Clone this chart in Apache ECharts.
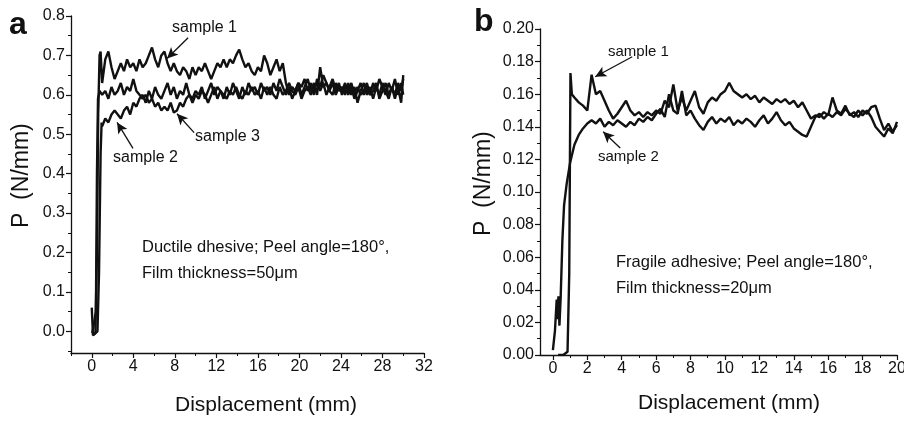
<!DOCTYPE html>
<html>
<head>
<meta charset="utf-8">
<script src="https://cdn.jsdelivr.net/npm/echarts@6/dist/echarts.min.js"></script>
<style>
  html, body { margin: 0; padding: 0; background: #fff; }
  #main { width: 904px; height: 423px; }
</style>
</head>
<body>
<div id="main"></div>
<script>
// panel a: ductile adhesive, 50um film
const riseA1 = [[0.05, -0.01], [0.15, -0.015], [0.35, -0.005], [0.5, 0.2], [0.62, 0.55], [0.75, 0.7], [0.85, 0.71]];
const riseA2 = [[0, 0.06], [0.05, 0.055], [0.12, -0.01], [0.3, -0.015], [0.55, 0.0], [0.7, 0.15], [0.85, 0.45], [0.95, 0.53]];
const riseA3 = [[0.05, -0.005], [0.2, -0.01], [0.4, 0.05], [0.5, 0.4], [0.6, 0.59], [0.75, 0.61]];
const dispA = [
  1.0, 1.3, 1.6, 1.9, 2.2, 2.5, 2.8, 3.1, 3.4, 3.7,
  4.0, 4.3, 4.6, 4.9, 5.2, 5.5, 5.8, 6.1, 6.4, 6.7,
  7.0, 7.3, 7.6, 7.9, 8.2, 8.5, 8.8, 9.1, 9.4, 9.7,
  10.0, 10.3, 10.6, 10.9, 11.2, 11.5, 11.8, 12.1, 12.4, 12.7,
  13.0, 13.3, 13.6, 13.9, 14.2, 14.5, 14.8, 15.1, 15.4, 15.7,
  16.0, 16.3, 16.6, 16.9, 17.2, 17.5, 17.8, 18.1, 18.4, 18.7,
  19.0, 19.3, 19.6, 19.9, 20.2, 20.5, 20.8, 21.1, 21.4, 21.7,
  22.0, 22.3, 22.6, 22.9, 23.2, 23.5, 23.8, 24.1, 24.4, 24.7,
  25.0, 25.3, 25.6, 25.9, 26.2, 26.5, 26.8, 27.1, 27.4, 27.7,
  28.0, 28.3, 28.6, 28.9, 29.2, 29.5, 29.8, 30.0
];
const sampleA1 = [
  0.63, 0.69, 0.71, 0.67, 0.64, 0.66, 0.68, 0.66, 0.69, 0.67,
  0.68, 0.66, 0.69, 0.67, 0.68, 0.70, 0.72, 0.69, 0.67, 0.70,
  0.71, 0.68, 0.66, 0.68, 0.66, 0.65, 0.67, 0.66, 0.64, 0.67,
  0.65, 0.67, 0.66, 0.68, 0.66, 0.64, 0.66, 0.68, 0.67, 0.69,
  0.67, 0.69, 0.68, 0.70, 0.715, 0.69, 0.67, 0.68, 0.66, 0.65,
  0.67, 0.66, 0.70, 0.68, 0.65, 0.67, 0.69, 0.66, 0.68, 0.63,
  0.60, 0.62, 0.61, 0.63, 0.62, 0.64, 0.61, 0.63, 0.60, 0.64,
  0.62, 0.65, 0.63, 0.61, 0.63, 0.60, 0.62, 0.61, 0.63, 0.60,
  0.62, 0.59, 0.61, 0.63, 0.60, 0.62, 0.60, 0.63, 0.61, 0.64,
  0.62, 0.60, 0.63, 0.61, 0.64, 0.60, 0.63, 0.60
];
const sampleA2 = [
  0.52, 0.54, 0.53, 0.55, 0.56, 0.55, 0.54, 0.56, 0.57, 0.55,
  0.58, 0.57, 0.59, 0.60, 0.58, 0.61, 0.59, 0.62, 0.60, 0.59,
  0.61, 0.63, 0.60, 0.62, 0.59, 0.61, 0.60, 0.63, 0.60, 0.59,
  0.61, 0.60, 0.62, 0.59, 0.61, 0.63, 0.60, 0.62, 0.61, 0.59,
  0.62, 0.60, 0.63, 0.61, 0.59, 0.62, 0.60, 0.63, 0.61, 0.62,
  0.60, 0.63, 0.61, 0.62, 0.60, 0.63, 0.61, 0.64, 0.62, 0.60,
  0.62, 0.59, 0.61, 0.63, 0.60, 0.62, 0.64, 0.61, 0.63, 0.60,
  0.67, 0.62, 0.63, 0.61, 0.60, 0.63, 0.61, 0.62, 0.60, 0.63,
  0.60, 0.62, 0.58, 0.61, 0.63, 0.60, 0.62, 0.59, 0.62, 0.60,
  0.63, 0.61, 0.59, 0.62, 0.60, 0.63, 0.61, 0.64
];
const sampleA3 = [
  0.60, 0.61, 0.59, 0.62, 0.60, 0.61, 0.63, 0.60, 0.62, 0.61,
  0.64, 0.61, 0.60, 0.59, 0.60, 0.58, 0.59, 0.57, 0.58, 0.56,
  0.57, 0.56, 0.58, 0.555, 0.56, 0.58, 0.57, 0.59, 0.60, 0.58,
  0.60, 0.59, 0.61, 0.60, 0.58, 0.60, 0.62, 0.59, 0.61, 0.60,
  0.59, 0.61, 0.60, 0.62, 0.60, 0.59, 0.61, 0.60, 0.62, 0.60,
  0.61, 0.59, 0.62, 0.60, 0.62, 0.60, 0.59, 0.62, 0.60, 0.61,
  0.63, 0.61, 0.60, 0.62, 0.59, 0.61, 0.62, 0.60, 0.62, 0.63,
  0.61, 0.63, 0.60, 0.62, 0.64, 0.61, 0.63, 0.60, 0.62, 0.61,
  0.63, 0.60, 0.62, 0.60, 0.61, 0.63, 0.60, 0.61, 0.63, 0.59,
  0.61, 0.63, 0.60, 0.62, 0.59, 0.62, 0.58, 0.65
];

// panel b: fragile adhesive, 20um film
const riseB1 = [[0.3, 0.0], [0.6, 0.0], [0.85, 0.002], [0.95, 0.05], [1.02, 0.173], [1.1, 0.16]];
const riseB2 = [[0, 0.003], [0.12, 0.015], [0.22, 0.034], [0.27, 0.022], [0.32, 0.036], [0.38, 0.018], [0.45, 0.035], [0.55, 0.07], [0.65, 0.092], [0.8, 0.105], [1.0, 0.118]];
const dispB = [
  1.25, 1.5, 1.75, 2.0, 2.25, 2.5, 2.75, 3.0, 3.25, 3.5, 3.75, 4.0,
  4.25, 4.5, 4.75, 5.0, 5.25, 5.5, 5.75, 6.0, 6.25, 6.5, 6.75, 7.0,
  7.25, 7.5, 7.75, 8.0, 8.25, 8.5, 8.75, 9.0, 9.25, 9.5, 9.75, 10.0,
  10.25, 10.5, 10.75, 11.0, 11.25, 11.5, 11.75, 12.0, 12.25, 12.5, 12.75, 13.0,
  13.25, 13.5, 13.75, 14.0, 14.25, 14.5, 14.75, 15.0, 15.25, 15.5, 15.75, 16.0,
  16.25, 16.5, 16.75, 17.0, 17.25, 17.5, 17.75, 18.0, 18.25, 18.5, 18.75, 19.0,
  19.25, 19.5, 19.75, 20.0
];
const sampleB1 = [
  0.158, 0.155, 0.153, 0.150, 0.172, 0.160, 0.162, 0.156, 0.150, 0.145, 0.148, 0.152,
  0.156, 0.150, 0.147, 0.149, 0.146, 0.149, 0.147, 0.150, 0.148, 0.156, 0.152, 0.166,
  0.150, 0.158, 0.150, 0.156, 0.162, 0.152, 0.148, 0.155, 0.158, 0.156, 0.160, 0.162,
  0.167, 0.162, 0.160, 0.158, 0.160, 0.157, 0.159, 0.155, 0.158, 0.156, 0.154, 0.157,
  0.155, 0.157, 0.154, 0.156, 0.152, 0.155, 0.150, 0.145, 0.147, 0.146, 0.149, 0.147,
  0.158, 0.150, 0.148, 0.153, 0.147, 0.149, 0.146, 0.150, 0.148, 0.152, 0.153, 0.145,
  0.138, 0.142, 0.137, 0.141
];
const sampleB2 = [
  0.129, 0.135, 0.139, 0.142, 0.144, 0.142, 0.145, 0.140, 0.143, 0.141, 0.144, 0.142,
  0.140, 0.143, 0.141, 0.145, 0.143, 0.146, 0.144, 0.148, 0.151, 0.146, 0.160, 0.150,
  0.148, 0.162, 0.147, 0.150, 0.145, 0.141, 0.138, 0.143, 0.146, 0.142, 0.145, 0.143,
  0.146, 0.141, 0.144, 0.142, 0.145, 0.143, 0.140, 0.144, 0.147, 0.142, 0.145, 0.149,
  0.144, 0.141, 0.143, 0.139, 0.137, 0.135, 0.134, 0.140, 0.146, 0.148, 0.145, 0.148,
  0.146, 0.149, 0.147, 0.151, 0.148, 0.146, 0.150, 0.147, 0.150, 0.146, 0.140, 0.137,
  0.134, 0.139, 0.136, 0.143
];

// tick labels
const ticksXA = [0, 4, 8, 12, 16, 20, 24, 28, 32];
const minorXA = [-2, 2, 6, 10, 14, 18, 22, 26, 30];
const ticksYA = [0, 0.1, 0.2, 0.3, 0.4, 0.5, 0.6, 0.7, 0.8];
const minorYA = [-0.05, 0.05, 0.15, 0.25, 0.35, 0.45, 0.55, 0.65, 0.75];
const ticksXB = [0, 2, 4, 6, 8, 10, 12, 14, 16, 18, 20];
const minorXB = [1, 3, 5, 7, 9, 11, 13, 15, 17, 19];

function zip(xs, ys) {
  const out = [];
  for (let i = 0; i < xs.length && i < ys.length; i++) out.push([xs[i], ys[i]]);
  return out;
}

const FONT = 'Liberation Sans, Arial, sans-serif';
const INK = '#111';

function mainAxis(grid, pos, min, max, values, fmt) {
  return {
    type: 'value', gridIndex: grid, position: pos, offset: 0, min: min, max: max,
    axisLine: { onZero: false, lineStyle: { color: INK, width: 1.3 } },
    axisTick: { customValues: values, length: 5, lineStyle: { color: INK, width: 1.2 } },
    axisLabel: { customValues: values, formatter: fmt, color: INK, fontSize: 16, fontFamily: FONT, margin: 6 },
    splitLine: { show: false }
  };
}
function minorAxis(grid, pos, min, max, values) {
  return {
    type: 'value', gridIndex: grid, position: pos, offset: 0, min: min, max: max,
    axisLine: { show: false, onZero: false },
    axisTick: { customValues: values, length: 3, lineStyle: { color: INK, width: 1 } },
    axisLabel: { show: false },
    splitLine: { show: false }
  };
}

function arrow(from, to) {
  return {
    silent: true, symbol: ['none', 'arrow'], symbolSize: [8, 11],
    lineStyle: { color: INK, width: 1.3, type: 'solid' },
    label: { show: false },
    data: [[{ coord: from }, { coord: to }]]
  };
}

function curve(name, xi, yi, data, mark) {
  const s = {
    name: name, type: 'line', xAxisIndex: xi, yAxisIndex: yi, data: data,
    showSymbol: false, symbol: 'none', animation: false,
    lineStyle: { color: INK, width: 2.4 }
  };
  if (mark) s.markLine = mark;
  return s;
}

function txt(x, y, text, size, bold) {
  return {
    type: 'text', x: x, y: y,
    style: { text: text, fill: INK, font: (bold ? 'bold ' : '') + size + 'px ' + FONT, textVerticalAlign: 'middle' }
  };
}

const chart = echarts.init(document.getElementById('main'));
chart.setOption({
  animation: false,
  backgroundColor: '#fff',
  grid: [
    { left: 71, right: 480, top: 16, bottom: 70, containLabel: false, outerBoundsMode: 'none' },
    { left: 540, right: 7, top: 29, bottom: 68, containLabel: false, outerBoundsMode: 'none' }
  ],
  xAxis: [
    mainAxis(0, 'bottom', -2, 32, ticksXA, v => String(v)),
    minorAxis(0, 'bottom', -2, 32, minorXA),
    mainAxis(1, 'bottom', -0.75, 20, ticksXB, v => String(v)),
    minorAxis(1, 'bottom', -0.75, 20, minorXB)
  ],
  yAxis: [
    mainAxis(0, 'left', -0.055, 0.8, ticksYA, v => v.toFixed(1)),
    minorAxis(0, 'left', -0.055, 0.8, minorYA),
    {
      type: 'value', gridIndex: 1, position: 'left', offset: 0, min: 0, max: 0.2, interval: 0.02,
      axisLine: { show: true, onZero: false, lineStyle: { color: INK, width: 1.3 } },
      axisTick: { show: true, length: 5, lineStyle: { color: INK, width: 1.2 } },
      minorTick: { show: true, splitNumber: 2, length: 3, lineStyle: { color: INK, width: 1 } },
      axisLabel: { formatter: v => v.toFixed(2), color: INK, fontSize: 16, fontFamily: FONT, margin: 6 },
      splitLine: { show: false }
    }
  ],
  series: [
    curve('sample 1', 0, 0, riseA1.concat(zip(dispA, sampleA1)), arrow([9.28, 0.745], [7.25, 0.692])),
    curve('sample 2', 0, 0, riseA2.concat(zip(dispA, sampleA2)), arrow([3.97, 0.464], [2.44, 0.53])),
    curve('sample 3', 0, 0, riseA3.concat(zip(dispA, sampleA3)), arrow([9.86, 0.504], [8.21, 0.552])),
    curve('sample 1', 2, 2, riseB1.concat(zip(dispB, sampleB1)), arrow([4.61, 0.183], [2.46, 0.1707])),
    curve('sample 2', 2, 2, riseB2.concat(zip(dispB, sampleB2)), arrow([3.91, 0.127], [2.92, 0.137]))
  ],
  graphic: [
    txt(9, 25, 'a', 32, true),
    txt(474, 22, 'b', 32, true),
    txt(172, 28, 'sample 1', 16),
    txt(195, 137, 'sample 3', 16),
    txt(113, 158, 'sample 2', 16),
    txt(142, 247, 'Ductile dhesive; Peel angle=180°,', 16.5),
    txt(142, 273, 'Film thickness=50μm', 16.5),
    txt(608, 52, 'sample 1', 15),
    txt(598, 157, 'sample 2', 15),
    txt(616, 262, 'Fragile adhesive; Peel angle=180°,', 16.5),
    txt(616, 288, 'Film thickness=20μm', 16.5),
    txt(175, 405, 'Displacement (mm)', 21),
    txt(638, 403, 'Displacement (mm)', 21),
    { type: 'text', x: 22, y: 228, rotation: Math.PI / 2,
      style: { text: 'P  (N/mm)', fill: INK, font: '23px ' + FONT, textVerticalAlign: 'middle' } },
    { type: 'text', x: 484, y: 236, rotation: Math.PI / 2,
      style: { text: 'P  (N/mm)', fill: INK, font: '23px ' + FONT, textVerticalAlign: 'middle' } }
  ]
});
</script>
</body>
</html>
